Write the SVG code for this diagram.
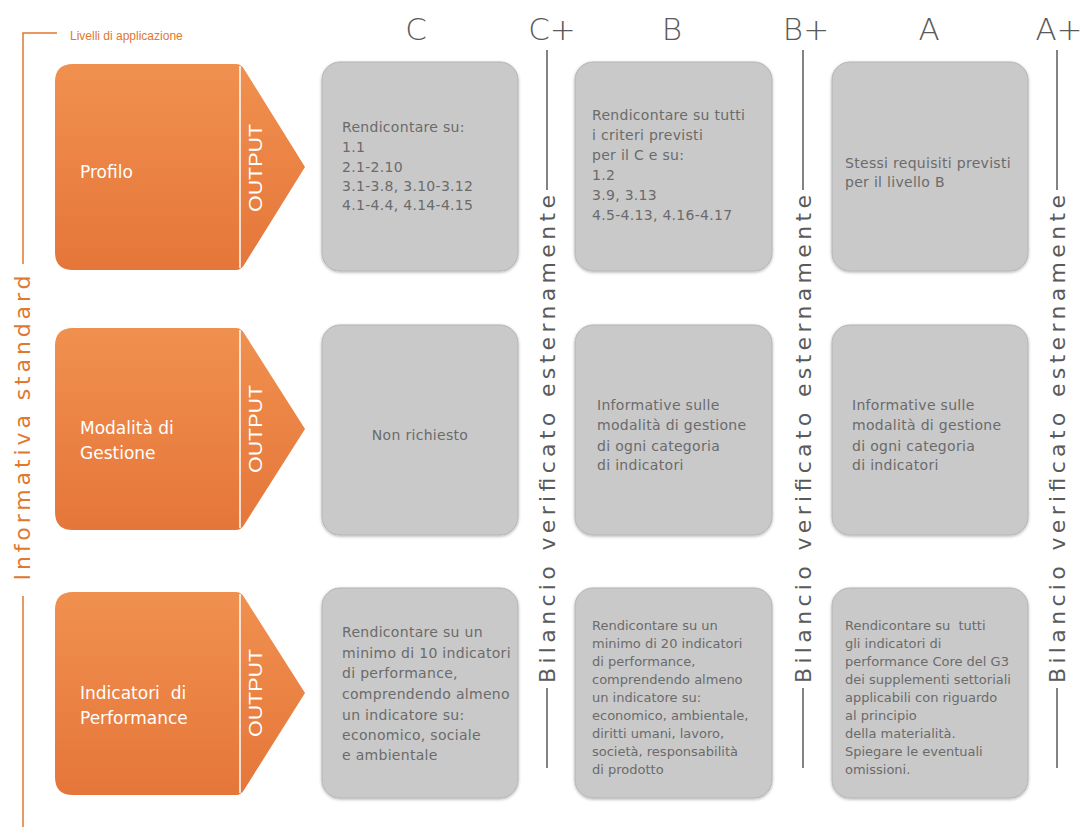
<svg xmlns="http://www.w3.org/2000/svg" width="1081" height="827" viewBox="0 0 1081 827">
<style>
.org{fill:url(#og);}
.div{stroke:#fff;stroke-width:1.5;}
.ttl{font-family:"DejaVu Sans",sans-serif;font-size:17px;fill:#fff;}
.out{font-family:"Liberation Sans Narrow","Liberation Sans",sans-serif;font-size:18px;fill:#fff;}
.box{fill:#c9c9c9;stroke:#b4b4b4;stroke-width:1;filter:url(#sh);}
.t{font-family:"DejaVu Sans",sans-serif;font-size:14px;fill:#6b6b6b;letter-spacing:0.3px;}
.s{font-family:"DejaVu Sans",sans-serif;font-size:13px;fill:#6b6b6b;}
.hd{font-family:"DejaVu Sans",sans-serif;font-weight:200;font-size:31px;fill:#5a5a5a;text-anchor:middle;}
.ver{font-family:"DejaVu Sans",sans-serif;font-size:22px;fill:#5a5a5a;text-anchor:middle;}
.sep{stroke:#5a5a5a;stroke-width:1.5;fill:none;}
.ol{stroke:#e0782f;stroke-width:1.5;fill:none;}
</style>
<defs>
<linearGradient id="og" x1="0" y1="0" x2="0" y2="1">
<stop offset="0" stop-color="#f0904f"/>
<stop offset="1" stop-color="#e5763a"/>
</linearGradient>
<filter id="sh" x="-10%" y="-10%" width="120%" height="120%">
<feDropShadow dx="0" dy="1" stdDeviation="1.5" flood-color="#000" flood-opacity="0.3"/>
</filter>
</defs>
<rect width="1081" height="827" fill="#fff"/>

<g id="axis-left">
<path class="ol" d="M57,33 H23 V264"/>
<line class="ol" x1="23" y1="596" x2="23" y2="827"/>
<text x="70" y="40" font-family="'Liberation Sans',sans-serif" font-size="12" fill="#e0782f">Livelli di applicazione</text>
<text transform="translate(30,428) rotate(-90)" font-family="'DejaVu Sans',sans-serif" font-size="22" fill="#e0782f" text-anchor="middle" textLength="305" lengthAdjust="spacing">Informativa standard</text>
</g>

<g id="headers">
<text class="hd" x="416" y="40">C</text>
<text class="hd" x="552" y="40">C+</text>
<text class="hd" x="672" y="40">B</text>
<text class="hd" x="806" y="40">B+</text>
<text class="hd" x="929" y="40">A</text>
<text class="hd" x="1059" y="40">A+</text>
</g>

<g id="connectors">
<line class="sep" x1="547" y1="50" x2="547" y2="190"/>
<line class="sep" x1="547" y1="688" x2="547" y2="768"/>
<text class="ver" transform="translate(555,439) rotate(-90)" textLength="488" lengthAdjust="spacing">Bilancio verificato esternamente</text>
<line class="sep" x1="803" y1="50" x2="803" y2="190"/>
<line class="sep" x1="803" y1="688" x2="803" y2="768"/>
<text class="ver" transform="translate(811,439) rotate(-90)" textLength="488" lengthAdjust="spacing">Bilancio verificato esternamente</text>
<line class="sep" x1="1057" y1="50" x2="1057" y2="190"/>
<line class="sep" x1="1057" y1="688" x2="1057" y2="768"/>
<text class="ver" transform="translate(1065,439) rotate(-90)" textLength="488" lengthAdjust="spacing">Bilancio verificato esternamente</text>
</g>

<g id="row-profilo">
<path class="org" d="M73,64 H236 Q241,64 244,69 L305,167 L244,265 Q241,270 236,270 H73 Q55,270 55,252 V82 Q55,64 73,64 Z"/>
<line class="div" x1="240" y1="66" x2="240" y2="268"/>
<text class="ttl" x="80" y="178">Profilo</text>
<text class="out" transform="translate(262,168) rotate(-90)" text-anchor="middle" textLength="88" lengthAdjust="spacingAndGlyphs">OUTPUT</text>
</g>

<g id="row-gestione">
<path class="org" d="M73,328 H236 Q241,328 244,333 L305,429 L244,525 Q241,530 236,530 H73 Q55,530 55,512 V346 Q55,328 73,328 Z"/>
<line class="div" x1="240" y1="330" x2="240" y2="528"/>
<text class="ttl" x="80" y="434">Modalità di</text>
<text class="ttl" x="80" y="459">Gestione</text>
<text class="out" transform="translate(262,429) rotate(-90)" text-anchor="middle" textLength="88" lengthAdjust="spacingAndGlyphs">OUTPUT</text>
</g>

<g id="row-indicatori">
<path class="org" d="M73,592 H236 Q241,592 244,597 L305,693 L244,790 Q241,795 236,795 H73 Q55,795 55,777 V610 Q55,592 73,592 Z"/>
<line class="div" x1="240" y1="594" x2="240" y2="793"/>
<text class="ttl" x="80" y="699" xml:space="preserve">Indicatori  di</text>
<text class="ttl" x="80" y="724">Performance</text>
<text class="out" transform="translate(262,693) rotate(-90)" text-anchor="middle" textLength="88" lengthAdjust="spacingAndGlyphs">OUTPUT</text>
</g>

<g id="cell-profilo-C">
<rect class="box" x="322" y="62" width="196" height="209" rx="18"/>
<text class="t" x="342" y="132">Rendicontare su:</text>
<text class="t" x="342" y="152">1.1</text>
<text class="t" x="342" y="172">2.1-2.10</text>
<text class="t" x="342" y="191">3.1-3.8, 3.10-3.12</text>
<text class="t" x="342" y="210">4.1-4.4, 4.14-4.15</text>
</g>
<g id="cell-profilo-B">
<rect class="box" x="575" y="62" width="197" height="209" rx="18"/>
<text class="t" x="592" y="120">Rendicontare su tutti</text>
<text class="t" x="592" y="140">i criteri previsti</text>
<text class="t" x="592" y="160">per il C e su:</text>
<text class="t" x="592" y="180">1.2</text>
<text class="t" x="592" y="200">3.9, 3.13</text>
<text class="t" x="592" y="220">4.5-4.13, 4.16-4.17</text>
</g>
<g id="cell-profilo-A">
<rect class="box" x="832" y="62" width="196" height="209" rx="18"/>
<text class="t" x="845" y="168">Stessi requisiti previsti</text>
<text class="t" x="845" y="187">per il livello B</text>
</g>

<g id="cell-gestione-C">
<rect class="box" x="322" y="325" width="196" height="210" rx="18"/>
<text class="t" x="420" y="440" text-anchor="middle">Non richiesto</text>
</g>
<g id="cell-gestione-B">
<rect class="box" x="575" y="325" width="197" height="210" rx="18"/>
<text class="t" x="597" y="410">Informative sulle</text>
<text class="t" x="597" y="430">modalità di gestione</text>
<text class="t" x="597" y="451">di ogni categoria</text>
<text class="t" x="597" y="470">di indicatori</text>
</g>
<g id="cell-gestione-A">
<rect class="box" x="832" y="325" width="196" height="210" rx="18"/>
<text class="t" x="852" y="410">Informative sulle</text>
<text class="t" x="852" y="430">modalità di gestione</text>
<text class="t" x="852" y="451">di ogni categoria</text>
<text class="t" x="852" y="470">di indicatori</text>
</g>

<g id="cell-indicatori-C">
<rect class="box" x="322" y="588" width="196" height="210" rx="18"/>
<text class="t" x="342" y="637">Rendicontare su un</text>
<text class="t" x="342" y="658">minimo di 10 indicatori</text>
<text class="t" x="342" y="678">di performance,</text>
<text class="t" x="342" y="699">comprendendo almeno</text>
<text class="t" x="342" y="720">un indicatore su:</text>
<text class="t" x="342" y="740">economico, sociale</text>
<text class="t" x="342" y="760">e ambientale</text>
</g>
<g id="cell-indicatori-B">
<rect class="box" x="575" y="588" width="197" height="210" rx="18"/>
<text class="s" x="592" y="630">Rendicontare su un</text>
<text class="s" x="592" y="648">minimo di 20 indicatori</text>
<text class="s" x="592" y="666">di performance,</text>
<text class="s" x="592" y="684">comprendendo almeno</text>
<text class="s" x="592" y="702">un indicatore su:</text>
<text class="s" x="592" y="720">economico, ambientale,</text>
<text class="s" x="592" y="738">diritti umani, lavoro,</text>
<text class="s" x="592" y="756">società, responsabilità</text>
<text class="s" x="592" y="774">di prodotto</text>
</g>
<g id="cell-indicatori-A">
<rect class="box" x="832" y="588" width="196" height="210" rx="18"/>
<text class="s" x="845" y="630" xml:space="preserve">Rendicontare su  tutti</text>
<text class="s" x="845" y="648">gli indicatori di</text>
<text class="s" x="845" y="666">performance Core del G3</text>
<text class="s" x="845" y="684">dei supplementi settoriali</text>
<text class="s" x="845" y="702">applicabili con riguardo</text>
<text class="s" x="845" y="720">al principio</text>
<text class="s" x="845" y="738">della materialità.</text>
<text class="s" x="845" y="756">Spiegare le eventuali</text>
<text class="s" x="845" y="774">omissioni.</text>
</g>
</svg>
